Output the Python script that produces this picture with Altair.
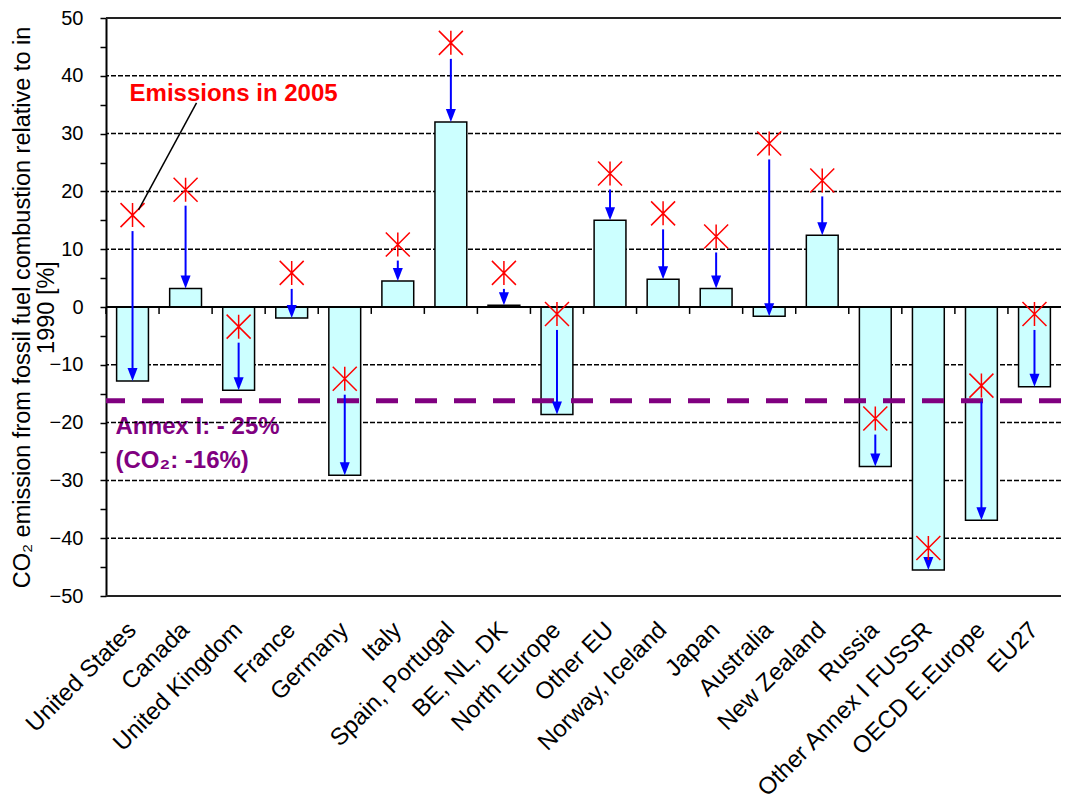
import altair as alt
import pandas as pd

FONT = "Liberation Sans"

categories = ["United States", "Canada", "United Kingdom", "France", "Germany", "Italy",
              "Spain, Portugal", "BE, NL, DK", "North Europe", "Other EU", "Norway, Iceland",
              "Japan", "Australia", "New Zealand", "Russia", "Other Annex I FUSSR",
              "OECD E.Europe", "EU27"]
bar_values = [-12.8, 3.2, -14.4, -1.9, -29.1, 4.5, 32.0, 0.3, -18.6, 15.0, 4.8, 3.2,
              -1.6, 12.4, -27.6, -45.5, -36.9, -13.8]
emissions_2005 = [15.9, 20.3, -3.4, 5.9, -12.4, 10.8, 45.7, 5.9, -1.2, 23.1, 16.2, 12.2,
                  28.3, 21.9, -19.3, -41.7, -13.6, -1.2]
y_ticks = [-50, -45, -40, -35, -30, -25, -20, -15, -10, -5, 0, 5, 10, 15, 20, 25, 30, 35, 40, 45, 50]
grid_values = [-40, -30, -20, -10, 10, 20, 30, 40]
frame_values = [50, -50]
annex_co2_level = -16.2

df = pd.DataFrame({"cat": categories, "bar": bar_values, "e2005": emissions_2005})

yscale = alt.Scale(domain=[-50, 50], nice=False, zero=False)
xscale = alt.Scale(paddingInner=0, paddingOuter=0)

XAXIS = alt.Axis(labelAngle=-45, labelAlign="right", labelBaseline="middle",
                 labelFontSize=24, labelFont=FONT, labelColor="black", labelLimit=0,
                 ticks=False, domain=False, labelPadding=30, labelOverlap=False)
YAXIS = alt.Axis(values=y_ticks,
                 labelExpr="datum.value % 10 === 0 ? datum.label : ''",
                 labelFontSize=20, labelFont=FONT, labelColor="black", labelPadding=17,
                 tickSize=6, tickColor="black", tickWidth=1.5,
                 domainColor="black", domainWidth=2, grid=False,
                 titleFont=FONT, titleFontSize=23.5, titleFontWeight="normal",
                 titleColor="black", titlePadding=-9, titleLineHeight=24)
YTITLE = ["CO\u2082 emission from fossil fuel combustion relative to in", "1990 [%]"]


def X(**kw):
    return alt.X("cat:N", sort=categories, scale=xscale, axis=XAXIS, title=None, **kw)


def Y(field):
    return alt.Y(field, scale=yscale, axis=YAXIS, title=YTITLE)


bars = alt.Chart(df).mark_bar(
    width=alt.RelativeBandSize(band=0.6), color="#CCFFFF", stroke="black", strokeWidth=1.5
).encode(x=X(), y=Y("bar:Q"))

grid = alt.Chart(pd.DataFrame({"v": grid_values})).mark_rule(
    color="black", strokeDash=[5, 2], strokeWidth=1.5
).encode(y=Y("v:Q"))

frame = alt.Chart(pd.DataFrame({"v": frame_values})).mark_rule(
    color="#222222", strokeWidth=2
).encode(y=Y("v:Q"))

annex_line = alt.Chart(pd.DataFrame({"v": [annex_co2_level]})).mark_rule(
    color="#800080", strokeWidth=5, strokeDash=[22, 17]
).encode(y=Y("v:Q"))

zero_line = alt.Chart(pd.DataFrame({"v": [0]})).mark_rule(
    color="black", strokeWidth=2
).encode(y=Y("v:Q"))

bticks = alt.Chart(df).transform_calculate(z0="0", z1="-1.2").mark_rule(
    color="black", strokeWidth=1.5
).encode(
    x=X(bandPosition=0),
    y=Y("z0:Q"),
    y2="z1:Q",
)

shafts = alt.Chart(df).mark_rule(color="#0000FF", strokeWidth=2, yOffset=16, y2Offset=-6).encode(
    x=X(), y=Y("e2005:Q"), y2="bar:Q",
)

heads = alt.Chart(df).mark_point(
    shape="M-0.5,-1.3L0.5,-1.3L0,0Z", size=400, filled=True, color="#0000FF",
    opacity=1, strokeWidth=0
).encode(x=X(), y=Y("bar:Q"))

markers = alt.Chart(df).mark_point(
    shape="M-1,-1L1,1M-1,1L1,-1M0,-1L0,1", size=576, filled=False, color="#FF0000",
    opacity=1, strokeWidth=1.5
).encode(x=X(), y=Y("e2005:Q"))

# Annotations
ann_df = pd.DataFrame({"cat": ["United States"], "y": [36.9], "t": ["Emissions in 2005"]})
emis_text = alt.Chart(ann_df).mark_text(
    align="left", baseline="middle", fontSize=24, fontWeight="bold", color="#FF0000",
    font=FONT, dx=-3
).encode(x=X(), y=Y("y:Q"), text="t:N")

leader_df = pd.DataFrame({"cat": ["United States"], "y": [35.3], "y2": [16.8]})
leader = alt.Chart(leader_df).mark_rule(
    color="black", strokeWidth=1.5, xOffset=64, x2Offset=6
).encode(x=X(), x2="cat:N", y=Y("y:Q"), y2="y2:Q")

annex_df = pd.DataFrame({"cat": ["United States", "United States"], "y": [-20.7, -26.6],
                         "t": ["Annex I:  - 25%", "(CO\u2082:  -16%)"]})
annex_text = alt.Chart(annex_df).mark_text(
    align="left", baseline="middle", fontSize=24, fontWeight="bold", color="#800080",
    font=FONT, dx=-17
).encode(x=X(), y=Y("y:Q"), text="t:N")

chart = alt.layer(
    annex_text, grid, frame, bars, annex_line, zero_line, bticks, shafts, heads,
    markers, emis_text, leader
).properties(
    width=955, height=578,
    autosize=alt.AutoSizeParams(type="none"),
    padding={"left": 98, "top": 10, "right": 0, "bottom": 207}
).configure_view(stroke=None).configure(background="white")

chart.save("out.html", embed_options={"renderer": "svg", "actions": False})
